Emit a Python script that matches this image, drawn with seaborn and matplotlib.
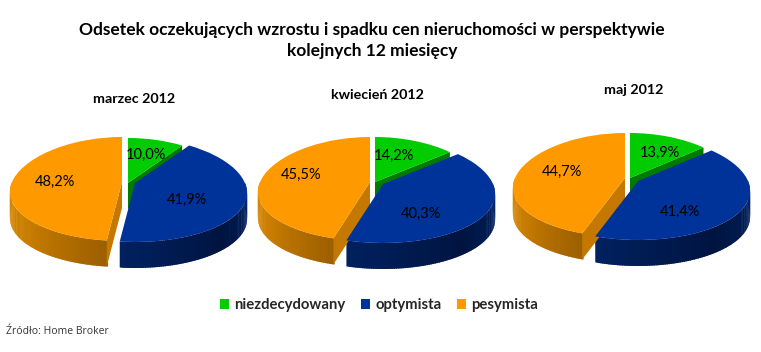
import numpy as np
import matplotlib
matplotlib.use("Agg")
import matplotlib.pyplot as plt
import seaborn as sns
from matplotlib.transforms import Transform, Affine2D

# values
months = ["marzec 2012", "kwiecień 2012", "maj 2012"]
categories = ["niezdecydowany", "optymista", "pesymista"]
niezdecydowany = [10.0, 14.2, 13.9]
optymista = [41.9, 40.3, 41.4]
pesymista = [48.2, 45.5, 44.7]

title = "Odsetek oczekujących wzrostu i spadku cen nieruchomości w perspektywie\nkolejnych 12 miesięcy"
source = "Źródło: Home Broker"

colors = ["#00CC00", "#003399", "#FF9900"]
cut_colors = ["#007A00", "#001F5F", "#C47800"]
blue_ramp = ["#00215F", "#001440", "#00256A"]
orange_ramp = ["#E08C00", "#C87C00", "#9C5F00"]

# pixel layout: centre of each slice (green, blue, orange) for every pie
centers = [[(128, 183), (135, 183), (122, 182)],
           [(375, 182), (383, 184), (370, 182)],
           [(630, 178), (638, 181), (625, 178)]]
subtitle_pos = [(134, 99), (377, 95), (634, 90)]
label_pos = [[(146, 155), (187, 200), (55, 182)],
             [(394, 156), (421, 214), (301, 175)],
             [(660, 153), (680, 212), (562, 172)]]
RX, RY, BEND, TAPER, DEPTH = 110, 52, 7, 0.2, 26


def tilt(x, y):
    # flat pie -> screen offset, far side narrower than the near side
    return RX * x * (1 - TAPER * y), -(RY * y - BEND * y * y)


class Tilt(Transform):
    input_dims = 2
    output_dims = 2
    has_inverse = False

    def transform_non_affine(self, values):
        sx, sy = tilt(values[:, 0], values[:, 1])
        return np.column_stack([sx, sy])


def draw_wall(ax, cx, cy, a0, a1, ramp):
    # outer rim between two angles, split in strips for the shading
    steps = np.linspace(a0, a1, int(a1 - a0) + 2)
    shades = sns.blend_palette(ramp, len(steps))
    for s0, s1, col in zip(steps[:-1], steps[1:], shades):
        t = np.radians([s0, s1 + 0.6])
        sx, sy = tilt(np.cos(t), np.sin(t))
        ax.fill([cx + sx[0], cx + sx[1], cx + sx[1], cx + sx[0]],
                [cy + sy[0], cy + sy[1], cy + sy[1] + DEPTH, cy + sy[0] + DEPTH],
                color=col, lw=0)


def draw_cut(ax, cx, cy, ang, col):
    t = np.radians(ang)
    sx, sy = tilt(np.cos(t), np.sin(t))
    ax.fill([cx, cx + sx, cx + sx, cx],
            [cy, cy + sy, cy + sy + DEPTH, cy + DEPTH], color=col, lw=0)


sns.set_theme(style="white")
plt.rcParams["font.family"] = ["Lato", "DejaVu Sans"]

fig = plt.figure(figsize=(7.61, 3.52), dpi=100)
ax = fig.add_axes([0, 0, 1, 1])
wedges = None

for i, month in enumerate(months):
    values = [niezdecydowany[i], optymista[i], pesymista[i]]
    # slices run clockwise from twelve o'clock
    ends = 90 - np.cumsum([0] + values) * 360 / sum(values)
    green_end = ends[1]
    blue_end = ends[2] % 360

    # back to front: green cut, blue wall, orange wall and its cut
    draw_cut(ax, *centers[i][0], green_end, cut_colors[0])
    draw_wall(ax, *centers[i][1], blue_end, 360, blue_ramp)
    draw_wall(ax, *centers[i][2], 180, blue_end, orange_ramp)
    draw_cut(ax, *centers[i][2], blue_end, cut_colors[2])

    wedges, _ = ax.pie(values, colors=colors, startangle=90, counterclock=False,
                       radius=1, frame=True, wedgeprops={"lw": 0})
    for w, (cx, cy) in zip(wedges, centers[i]):
        w.set_transform(Tilt() + Affine2D().translate(cx, cy) + ax.transData)
        w.set_zorder(3)

    for pos, val in zip(label_pos[i], values):
        ax.text(pos[0], pos[1], f"{val:.1f}%".replace(".", ","), ha="center", va="center",
                fontsize=10.5, color="black", zorder=5)
    ax.text(subtitle_pos[i][0], subtitle_pos[i][1], month, ha="center", va="center",
            fontsize=10.3, fontweight="bold", color="black")

ax.set_aspect("auto")
ax.set_xlim(0, 761)
ax.set_ylim(352, 0)
ax.axis("off")

ax.text(372, 40.5, title, ha="center", va="center", fontsize=12.5, fontweight="bold",
        color="black", linespacing=1.4)
ax.text(6, 331, source, ha="left", va="center", fontsize=7.5, color="#333333",
        family=["Open Sans", "DejaVu Sans"])

fig.legend(wedges, categories, loc="center", bbox_to_anchor=(379 / 761, 1 - 305 / 352), ncol=3,
           frameon=False, handlelength=0.65, handleheight=0.65, handletextpad=0.35,
           columnspacing=1.0, prop={"size": 10.7, "weight": "bold"})

fig.savefig("out.png", dpi=100, facecolor="white")
